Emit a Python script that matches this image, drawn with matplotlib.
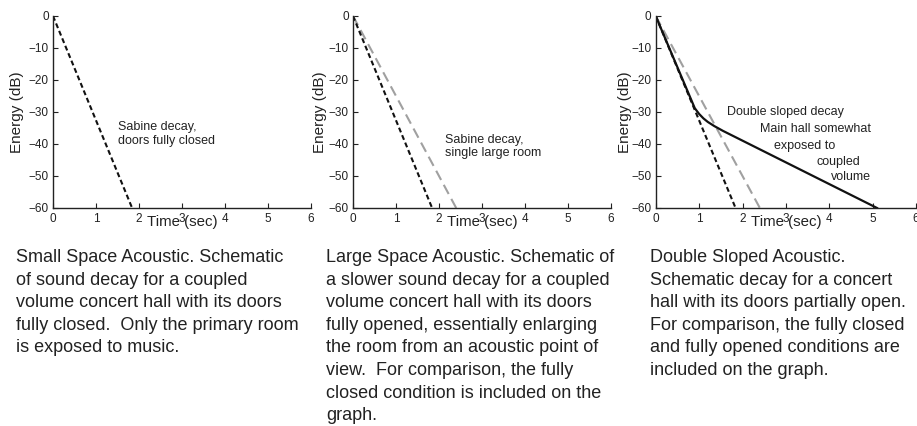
import matplotlib
matplotlib.use("Agg")
import matplotlib.pyplot as plt

plt.rcParams["font.family"] = ["Liberation Sans", "DejaVu Sans"]
plt.rcParams["lines.scale_dashes"] = False

# Decay curves (time in seconds, energy in dB)
closed_t = [0, 1.84]
closed_db = [0, -60]
open_t = [0, 2.4]
open_db = [0, -60]
double_t = [0, 0.9, 1.0, 1.1, 1.2, 1.35, 1.55, 5.1]
double_db = [0, -28.8, -30.6, -32.0, -33.1, -34.4, -35.9, -60]

x_ticks = [0, 1, 2, 3, 4, 5, 6]
y_ticks = [0, -10, -20, -30, -40, -50, -60]

captions = [
    "Small Space Acoustic. Schematic\n"
    "of sound decay for a coupled\n"
    "volume concert hall with its doors\n"
    "fully closed.  Only the primary room\n"
    "is exposed to music.",
    "Large Space Acoustic. Schematic of\n"
    "a slower sound decay for a coupled\n"
    "volume concert hall with its doors\n"
    "fully opened, essentially enlarging\n"
    "the room from an acoustic point of\n"
    "view.  For comparison, the fully\n"
    "closed condition is included on the\n"
    "graph.",
    "Double Sloped Acoustic.\n"
    "Schematic decay for a concert\n"
    "hall with its doors partially open.\n"
    "For comparison, the fully closed\n"
    "and fully opened conditions are\n"
    "included on the graph.",
]

W, H = 917, 426
fig = plt.figure(figsize=(W / 100, H / 100), dpi=100)

# axes placement in pixels: left, width, y-label offset
panels = [(53, 258, -36), (353, 258, -33), (655.7, 260.4, -31)]
axes = []
for left, width, ylab in panels:
    ax = fig.add_axes([left / W, 1 - 208 / H, width / W, 192 / H])
    ax.set_xlim(0, 6)
    ax.set_ylim(-60, 0)
    ax.set_xticks(x_ticks)
    ax.set_yticks(y_ticks)
    for side in ("top", "right"):
        ax.spines[side].set_visible(False)
    for side in ("left", "bottom"):
        ax.spines[side].set_linewidth(1.0)
        ax.spines[side].set_color("#222222")
    ax.tick_params(direction="in", length=3.5, width=0.8, labelsize=8.5,
                   colors="#222222")
    ax.tick_params(axis="x", pad=3.5)
    ax.tick_params(axis="y", pad=3)
    ax.set_xlabel("Time (sec)", fontsize=10.8, color="#222222", va="center")
    ax.xaxis.set_label_coords(0.5, -14 / 192)
    ax.set_ylabel("Energy (dB)", fontsize=11, color="#222222", va="center")
    ax.yaxis.set_label_coords(ylab / width, 0.5)
    ax.patch.set_alpha(0)
    axes.append(ax)

gray_kw = dict(color="#a0a0a0", lw=1.5, dashes=(7.5, 4))
black_kw = dict(color="#111111", lw=1.5, dashes=(3.6, 2.2))

ax1, ax2, ax3 = axes
ax1.plot(closed_t, closed_db, **black_kw)
ax1.text(1.51, -36.9, "Sabine decay,\ndoors fully closed", fontsize=9,
         va="center", ha="left", color="#222222")

ax2.plot(open_t, open_db, **gray_kw)
ax2.plot(closed_t, closed_db, **black_kw)
ax2.text(2.14, -40.8, "Sabine decay,\nsingle large room", fontsize=9,
         va="center", ha="left", color="#222222")

ax3.plot(open_t, open_db, **gray_kw)
ax3.plot(closed_t, closed_db, **black_kw)
ax3.plot(double_t, double_db, color="#111111", lw=1.6)
for x, y, s in [(3.0, -30.1, "Double sloped decay"),
                (3.69, -35.3, "Main hall somewhat"),
                (3.44, -40.6, "exposed to"),
                (4.21, -45.5, "coupled"),
                (4.51, -50.2, "volume")]:
    ax3.text(x, y, s, fontsize=9, ha="center", va="center", color="#222222")

# captions under each panel
for left, text in zip([16, 326, 650], captions):
    fig.text(left / W, 1 - 249 / H, text, fontsize=13, ha="left",
             va="top", color="#222222", linespacing=1.43)

fig.savefig("out.png", dpi=100)
